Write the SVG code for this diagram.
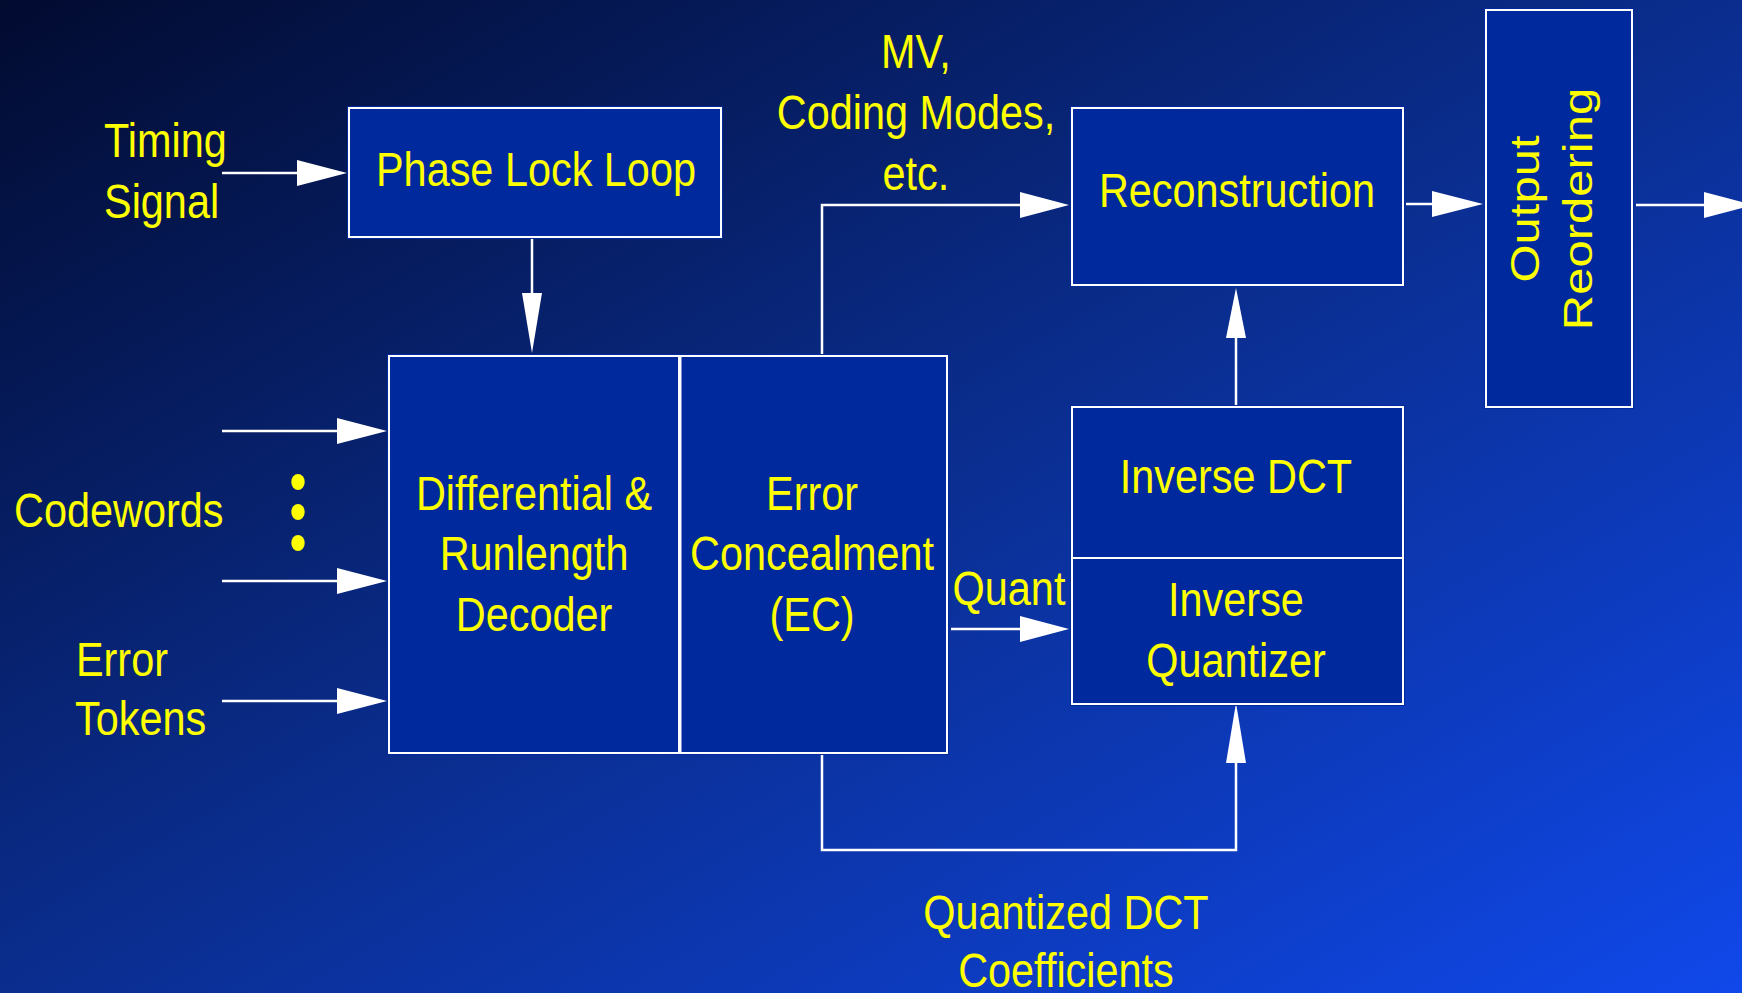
<svg xmlns="http://www.w3.org/2000/svg" width="1742" height="993" viewBox="0 0 1742 993">
<defs>
<linearGradient id="bg" x1="0" y1="0" x2="1" y2="1">
<stop offset="0" stop-color="#020b30"/>
<stop offset="0.5" stop-color="#0a2d8e"/>
<stop offset="1" stop-color="#1048ea"/>
</linearGradient>
<style>
.box{fill:#00299e;stroke:none}
.bd{fill:none;stroke:#ffffff;stroke-width:2}
.t{font-family:"Liberation Sans",Arial,sans-serif;font-size:49px;fill:#ffff00}
.m{text-anchor:middle}
.ln{fill:none;stroke:#ffffff;stroke-width:2.5}
.ah{fill:#ffffff;stroke:none}
</style>
</defs>
<rect x="0" y="0" width="1742" height="993" fill="url(#bg)"/>

<g id="connectors">
<line class="ln" x1="222" y1="173" x2="300" y2="173"/>
<polygon class="ah" points="297,160 347,173 297,186"/>
<line class="ln" x1="222" y1="431" x2="340" y2="431"/>
<polygon class="ah" points="337,418 387,431 337,444"/>
<line class="ln" x1="222" y1="581" x2="340" y2="581"/>
<polygon class="ah" points="337,568 387,581 337,594"/>
<line class="ln" x1="222" y1="701" x2="340" y2="701"/>
<polygon class="ah" points="337,688 387,701 337,714"/>
<line class="ln" x1="532" y1="239" x2="532" y2="296"/>
<polygon class="ah" points="522,293 532,353 542,293"/>
<polyline class="ln" points="822,355 822,205 1023,205"/>
<polygon class="ah" points="1020,192 1069,205 1020,218"/>
<line class="ln" x1="1406" y1="204" x2="1435" y2="204"/>
<polygon class="ah" points="1432,191 1483,204 1432,217"/>
<line class="ln" x1="1636" y1="205" x2="1707" y2="205"/>
<polygon class="ah" points="1704,192 1754,205 1704,218"/>
<line class="ln" x1="1236" y1="405" x2="1236" y2="335"/>
<polygon class="ah" points="1226,338 1236,288 1246,338"/>
<line class="ln" x1="951" y1="629" x2="1023" y2="629"/>
<polygon class="ah" points="1020,616 1069,629 1020,642"/>
<polyline class="ln" points="822,751 822,850 1236,850 1236,758"/>
<polygon class="ah" points="1226,763 1236,703 1246,763"/>
</g>

<g id="dots">
<ellipse cx="298" cy="482" rx="6.7" ry="8" fill="#ffff00"/>
<ellipse cx="298" cy="512" rx="6.7" ry="8" fill="#ffff00"/>
<ellipse cx="298" cy="543" rx="6.7" ry="8" fill="#ffff00"/>
</g>

<g id="pll">
<rect class="box" x="347" y="106" width="376" height="133"/>
<rect class="bd" x="349" y="108" width="372" height="129"/>
<text class="t m" transform="scale(0.845,1)" x="634.3" y="186">Phase Lock Loop</text>
</g>

<g id="decoder">
<rect class="box" x="387" y="354" width="294" height="401"/>
<rect class="bd" x="389" y="356" width="290" height="397"/>
<g class="t m" transform="scale(0.845,1)">
<text x="632" y="510">Differential &amp;</text>
<text x="632" y="570">Runlength</text>
<text x="632" y="631">Decoder</text>
</g>
</g>

<g id="ec">
<rect class="box" x="680" y="354" width="269" height="401"/>
<rect class="bd" x="680.5" y="356" width="266.5" height="397"/>
<g class="t m" transform="scale(0.845,1)">
<text x="961" y="510">Error</text>
<text x="961" y="570">Concealment</text>
<text x="961" y="631">(EC)</text>
</g>
</g>

<g id="reconstruction">
<rect class="box" x="1070" y="106" width="335" height="181"/>
<rect class="bd" x="1072" y="108" width="331" height="177"/>
<text class="t m" transform="scale(0.845,1)" x="1463.9" y="207">Reconstruction</text>
</g>

<g id="idct">
<rect class="box" x="1070" y="405" width="335" height="154"/>
<rect class="bd" x="1072" y="407" width="331" height="151"/>
<text class="t m" transform="scale(0.845,1)" x="1462.7" y="493">Inverse DCT</text>
</g>

<g id="iquant">
<rect class="box" x="1070" y="559" width="335" height="147"/>
<path class="bd" d="M1072,559 V704 H1403 V559"/>
<g class="t m" transform="scale(0.845,1)">
<text x="1462.7" y="616">Inverse</text>
<text x="1462.7" y="677">Quantizer</text>
</g>
</g>

<g id="output">
<rect class="box" x="1484" y="8" width="150" height="401"/>
<rect class="bd" x="1486" y="10" width="146" height="397"/>
<text class="t m" transform="translate(1539,209) scale(0.845,1) rotate(-90)" x="0" y="0">Output</text>
<text class="t m" transform="translate(1592,209) scale(0.845,1) rotate(-90)" x="0" y="0">Reordering</text>
</g>

<g id="labels" class="t" transform="scale(0.845,1)">
<text x="123.1" y="157">Timing</text>
<text x="123.1" y="218">Signal</text>
<text x="16.6" y="527">Codewords</text>
<text x="89.9" y="676">Error</text>
<text x="88.8" y="735">Tokens</text>
<text class="m" x="1084" y="68">MV,</text>
<text class="m" x="1084" y="129">Coding Modes,</text>
<text class="m" x="1084" y="190">etc.</text>
<text class="m" x="1194.1" y="605">Quant</text>
<text class="m" x="1261.5" y="929">Quantized DCT</text>
<text class="m" x="1261.5" y="987">Coefficients</text>
</g>
</svg>
